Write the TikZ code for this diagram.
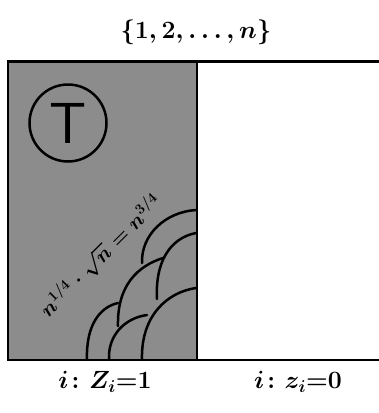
\documentclass[tikz,border=0pt]{standalone}
\usepackage{amsmath}
\definecolor{greyfill}{RGB}{140,140,140}
\tikzset{
  frame/.style={line width=2.8pt, black},
  scale line/.style={line width=2.5pt, black, line cap=round},
  lbl/.style={inner sep=0pt, text=black}
}
\begin{document}
\begin{tikzpicture}[x=1pt,y=-1pt]
\useasboundingbox (0,0) rectangle (379,413);
% shaded region
\fill[fill=greyfill] (8,61.5) rectangle (197,360);
% frame
\coordinate (tl) at (8,61.5);
\coordinate (bl) at (8,360);
\coordinate (tr) at (379,61.5);
\coordinate (br) at (379,360);
\coordinate (dt) at (197,61.5);
\coordinate (db) at (197,360);
\draw[frame] (tr) -- (tl) -- (bl) -- (br);
\draw[frame] (dt) -- (db);
% circle T
\node[draw, circle, line width=2.5pt, minimum size=77pt, inner sep=0pt] (T) at (68,123) {};
\node[lbl, font=\fontsize{58}{58}\selectfont\sffamily] (Tl) at (T.center) {T};
% top label
\node[lbl, font=\fontsize{29}{29}\selectfont\boldmath] (set) at (196,32) {$\{1,2,\dots,n\}$};
% bottom labels
\node[lbl, font=\fontsize{24}{24}\selectfont\boldmath] (one) at (105,382) {$i\colon Z_i{=}1$};
\node[lbl, font=\fontsize{24}{24}\selectfont\boldmath] (zero) at (298,382) {$i\colon z_i{=}0$};
% diagonal formula
\node[lbl, rotate=45, font=\fontsize{20}{20}\selectfont\boldmath] (eq) at (101,256) {$n^{1/4}\cdot\sqrt{n}=n^{3/4}$};
% scale arcs
\draw[scale line] (196,210) .. controls (165,212) and (141,235) .. (142,263);
\draw[scale line] (196,233) .. controls (170,238) and (155,262) .. (157,299);
\draw[scale line] (163,258) .. controls (138,266) and (117,285) .. (118,326);
\draw[scale line] (196,288) .. controls (168,292) and (141,315) .. (142,359);
\draw[scale line] (147,315) .. controls (125,318) and (108,335) .. (109,359);
\draw[scale line] (118,303) .. controls (100,307) and (86,325) .. (87,359);
\end{tikzpicture}
\end{document}
